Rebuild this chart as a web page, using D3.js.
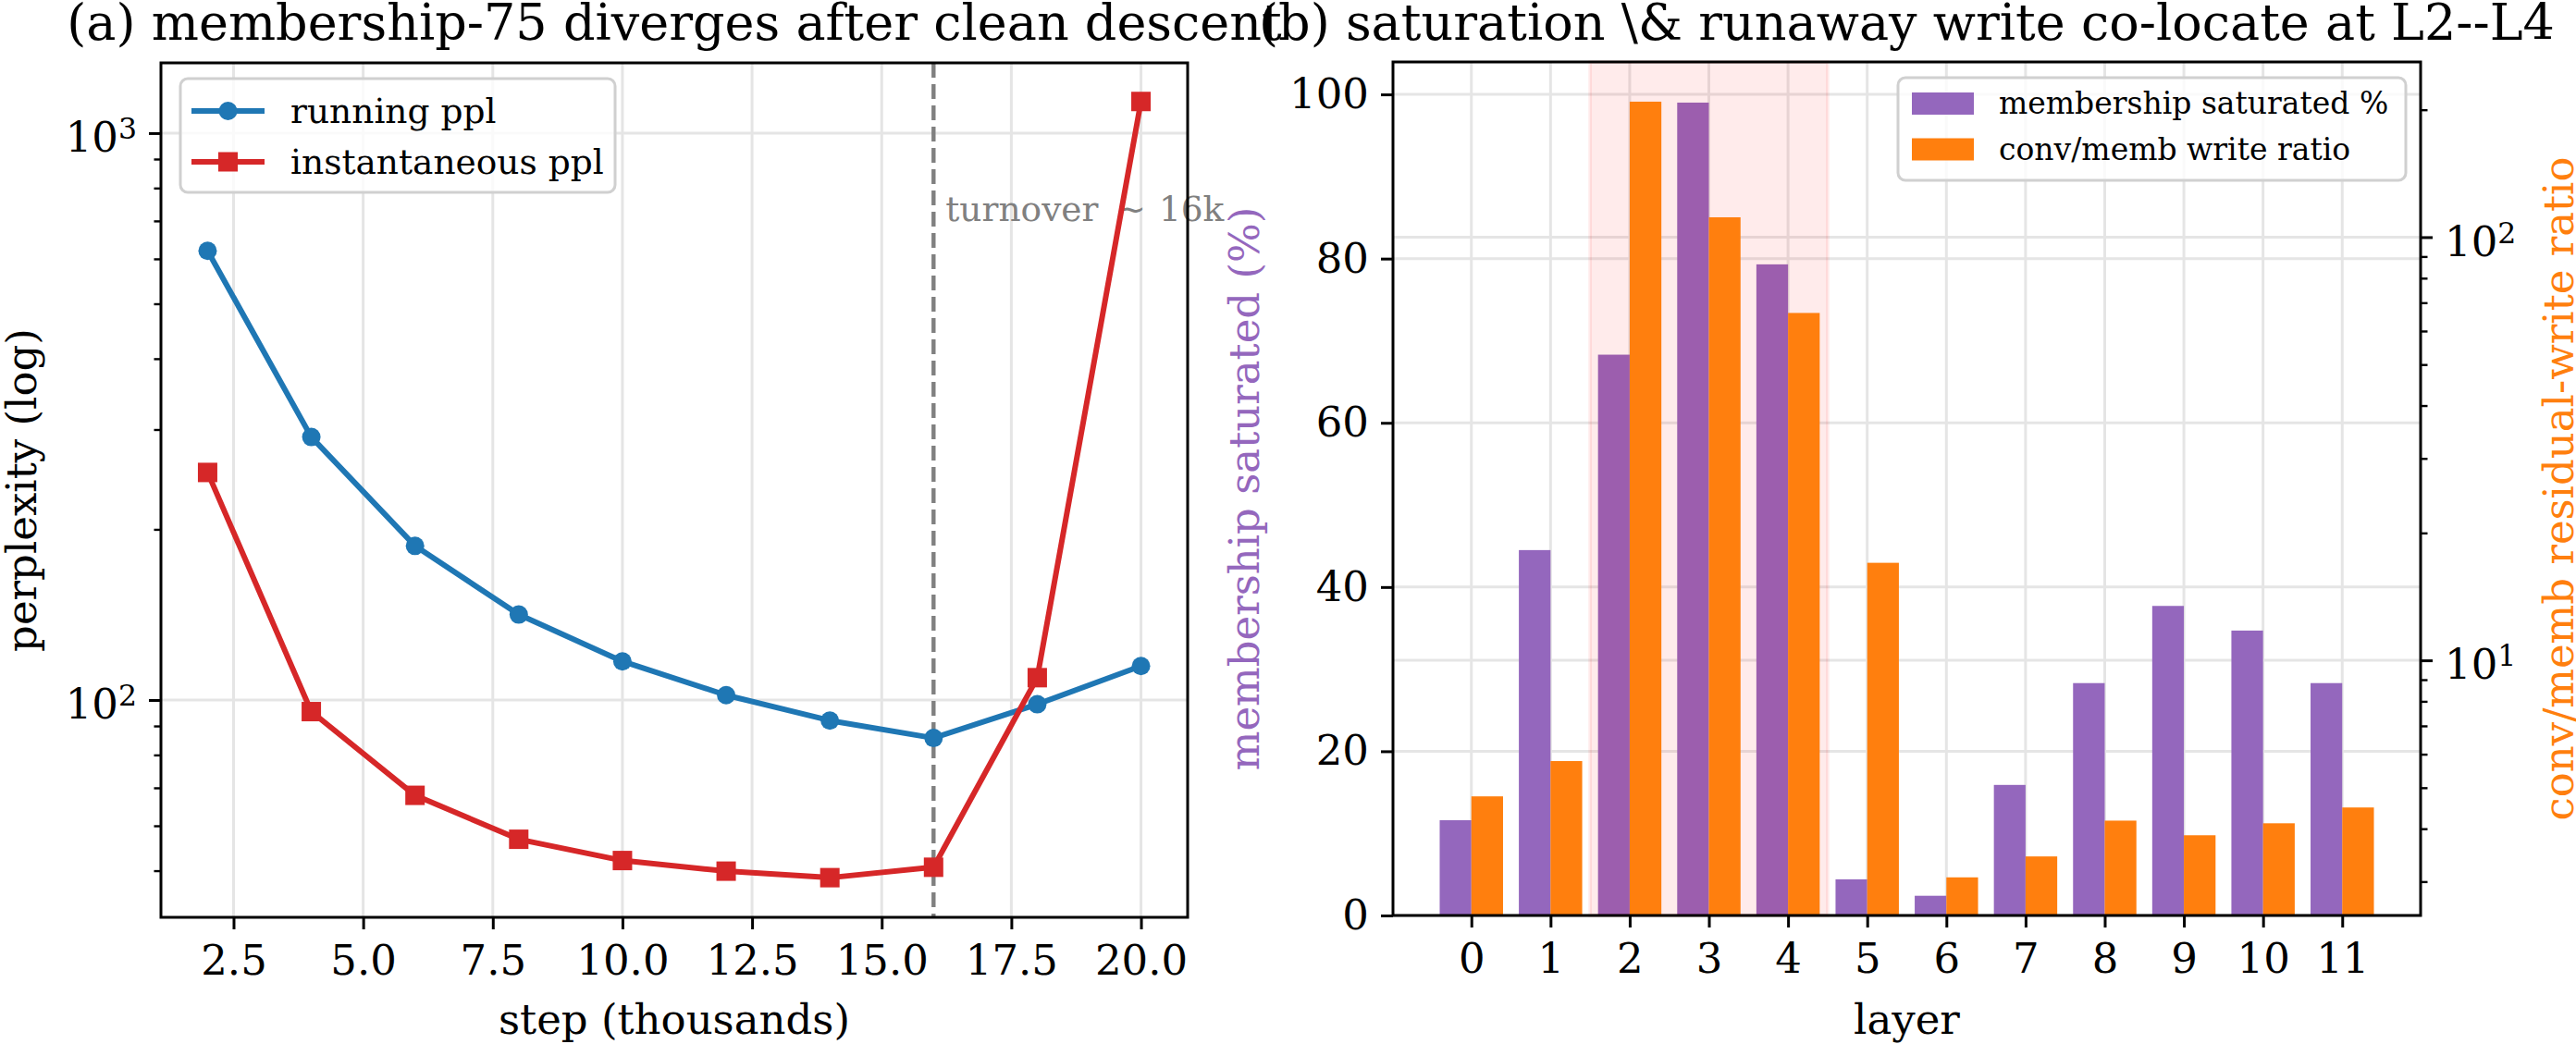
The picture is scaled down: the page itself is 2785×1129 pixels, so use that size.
<!DOCTYPE html>
<html>
<head>
<meta charset="utf-8">
<script src="https://cdn.jsdelivr.net/npm/d3@7"></script>
<style>
  body { margin: 0; background: #fff; }
  svg { display: block; }
</style>
</head>
<body>
<svg id="chart" width="2785" height="1129"></svg>
<script>
// panel (a) data
const steps = [2, 4, 6, 8, 10, 12, 14, 16, 18, 20];
const runningPpl = [620, 291, 187, 141.5, 117, 102, 92, 85.7, 98.3, 114.8];
const instPpl = [252, 95.4, 67.9, 56.8, 52.1, 49.9, 48.6, 50.7, 109.5, 1137];
const stepTicks = [2.5, 5.0, 7.5, 10.0, 12.5, 15.0, 17.5, 20.0];
const turnoverStep = 16;

// panel (b) data
const layers = [0, 1, 2, 3, 4, 5, 6, 7, 8, 9, 10, 11];
const saturatedPct = [11.6, 44.5, 68.3, 99.0, 79.3, 4.4, 2.4, 15.9, 28.3, 37.7, 34.7, 28.3];
const writeRatio = [4.77, 5.78, 209, 111.4, 66.2, 17.0, 3.07, 3.44, 4.18, 3.86, 4.12, 4.49];
const pctTicks = [0, 20, 40, 60, 80, 100];
const hotLayers = [1.5, 4.5];

const FONT = "DejaVu Serif";
const C = {blue: "#1f77b4", red: "#d62728", purple: "#9467bd", orange: "#ff7f0e", grid: "#e5e5e5", gray: "#808080"};

const svg = d3.select("#chart");
svg.append("rect").attr("width", 2785).attr("height", 1129).attr("fill", "#fff");

// shared helpers
function styleAxis(g, size) {
    g.select(".domain").remove();
    g.selectAll(".tick line").attr("stroke", "#000").attr("stroke-width", 3);
    g.selectAll(".tick text")
        .attr("font-family", FONT)
        .attr("font-size", size || 45)
        .attr("fill", "#000");
}

function powerLabels(g) {
    g.selectAll(".tick text").each(function(d) {
        const t = d3.select(this);
        t.text(null).attr("dy", "0.44em");
        t.append("tspan").text("10");
        t.append("tspan").attr("dy", "-0.45em").attr("font-size", "0.7em")
            .text(Math.round(Math.log10(d)));
    });
}

function minorsFor(dom) {
    const out = [];
    for (let e = -1; e < 5; e++) {
        for (let m = 2; m < 10; m++) {
            const v = m * Math.pow(10, e);
            if (v > dom[0] && v < dom[1]) out.push(v);
        }
    }
    return out;
}

function frame(g, x0, x1, y0, y1) {
    g.append("rect")
        .attr("x", x0).attr("y", y0)
        .attr("width", x1 - x0).attr("height", y1 - y0)
        .attr("fill", "none").attr("stroke", "#000").attr("stroke-width", 3);
}

// ---------------- panel (a) ----------------
const A = {x0: 174, x1: 1284, y0: 68, y1: 992};
const xA = d3.scaleLinear().domain([1.1, 20.9]).range([A.x0, A.x1]);
const yA = d3.scaleLog().domain([41.37, 1330]).range([A.y1, A.y0]);

const gA = svg.append("g");

// grid
gA.selectAll(".vgrid").data(stepTicks).enter().append("line")
    .attr("x1", d => xA(d)).attr("x2", d => xA(d))
    .attr("y1", A.y0).attr("y2", A.y1)
    .attr("stroke", C.grid).attr("stroke-width", 3);
gA.selectAll(".hgrid").data([100, 1000]).enter().append("line")
    .attr("x1", A.x0).attr("x2", A.x1)
    .attr("y1", d => yA(d)).attr("y2", d => yA(d))
    .attr("stroke", C.grid).attr("stroke-width", 3);

// turnover marker
gA.append("line")
    .attr("x1", xA(turnoverStep)).attr("x2", xA(turnoverStep))
    .attr("y1", A.y0).attr("y2", A.y1)
    .attr("stroke", C.gray).attr("stroke-width", 4.4)
    .attr("stroke-dasharray", "16,7");
const tt = gA.append("text")
    .attr("x", xA(turnoverStep) + 13).attr("y", 239)
    .attr("font-family", FONT).attr("font-size", 37.5).attr("fill", C.gray);
tt.append("tspan").text("turnover");
tt.append("tspan").attr("dx", 20).text("\u223C");
tt.append("tspan").attr("dx", 14).text("16k");

// series
const lineA = d3.line().x(d => xA(d[0])).y(d => yA(d[1]));
const runPts = steps.map((s, i) => [s, runningPpl[i]]);
const instPts = steps.map((s, i) => [s, instPpl[i]]);

gA.append("path").datum(runPts).attr("d", lineA)
    .attr("fill", "none").attr("stroke", C.blue).attr("stroke-width", 6).attr("stroke-linejoin", "round");
gA.selectAll(".runpt").data(runPts).enter().append("circle")
    .attr("cx", d => xA(d[0])).attr("cy", d => yA(d[1])).attr("r", 10)
    .attr("fill", C.blue);

gA.append("path").datum(instPts).attr("d", lineA)
    .attr("fill", "none").attr("stroke", C.red).attr("stroke-width", 6).attr("stroke-linejoin", "round");
gA.selectAll(".instpt").data(instPts).enter().append("rect")
    .attr("x", d => xA(d[0]) - 10.5).attr("y", d => yA(d[1]) - 10.5)
    .attr("width", 21).attr("height", 21)
    .attr("fill", C.red);

// axes
const axA = gA.append("g").attr("transform", `translate(0,${A.y1})`)
    .call(d3.axisBottom(xA).tickValues(stepTicks).tickFormat(d3.format(".1f")).tickSize(13).tickPadding(17));
styleAxis(axA);
const ayA = gA.append("g").attr("transform", `translate(${A.x0},0)`)
    .call(d3.axisLeft(yA).tickValues([100, 1000]).tickSize(13).tickPadding(13));
styleAxis(ayA);
powerLabels(ayA);
const ayAm = gA.append("g").attr("transform", `translate(${A.x0},0)`)
    .call(d3.axisLeft(yA).tickValues(minorsFor(yA.domain())).tickSize(7.5).tickFormat(""));
styleAxis(ayAm);
ayAm.selectAll(".tick line").attr("stroke-width", 2.4);
frame(gA, A.x0, A.x1, A.y0, A.y1);

// legend (a)
const legA = gA.append("g");
legA.append("rect").attr("x", 195).attr("y", 85).attr("width", 470).attr("height", 123)
    .attr("rx", 8).attr("fill", "#fff").attr("fill-opacity", 0.8)
    .attr("stroke", "#d0d0d0").attr("stroke-width", 3);
[["running ppl", C.blue, "circle"], ["instantaneous ppl", C.red, "square"]].forEach((e, i) => {
    const cy = 120 + i * 55;
    legA.append("line").attr("x1", 207).attr("x2", 286).attr("y1", cy).attr("y2", cy)
        .attr("stroke", e[1]).attr("stroke-width", 6);
    if (e[2] === "circle") {
        legA.append("circle").attr("cx", 246.5).attr("cy", cy).attr("r", 10).attr("fill", e[1]);
    } else {
        legA.append("rect").attr("x", 236).attr("y", cy - 10.5).attr("width", 21).attr("height", 21).attr("fill", e[1]);
    }
    legA.append("text").attr("x", 314).attr("y", cy + 13)
        .attr("font-family", FONT).attr("font-size", 37.5).attr("fill", "#000").text(e[0]);
});

// labels (a)
svg.append("text").attr("x", (A.x0 + A.x1) / 2).attr("y", 43)
    .attr("text-anchor", "middle").attr("font-family", FONT).attr("font-size", 54)
    .text("(a) membership-75 diverges after clean descent");
svg.append("text").attr("x", (A.x0 + A.x1) / 2).attr("y", 1118)
    .attr("text-anchor", "middle").attr("font-family", FONT).attr("font-size", 45)
    .text("step (thousands)");
svg.append("text").attr("transform", `translate(39,${(A.y0 + A.y1) / 2}) rotate(-90)`)
    .attr("text-anchor", "middle").attr("font-family", FONT).attr("font-size", 45)
    .text("perplexity (log)");

// ---------------- panel (b) ----------------
const B = {x0: 1506, x1: 2617, y0: 67, y1: 990};
const xB = d3.scaleLinear().domain([-0.99, 11.99]).range([B.x0, B.x1]);
const yB = d3.scaleLinear().domain([0, 103.95]).range([B.y1, B.y0]);
const yB2 = d3.scaleLog().domain([2.495, 259.4]).range([B.y1, B.y0]);
const barW = xB(0.4) - xB(0);

const gB = svg.append("g");

// grids of both axes, under the bars
gB.selectAll(".vgrid").data(layers).enter().append("line")
    .attr("x1", d => xB(d)).attr("x2", d => xB(d))
    .attr("y1", B.y0).attr("y2", B.y1)
    .attr("stroke", C.grid).attr("stroke-width", 3);
gB.selectAll(".hgrid").data(pctTicks).enter().append("line")
    .attr("x1", B.x0).attr("x2", B.x1)
    .attr("y1", d => yB(d)).attr("y2", d => yB(d))
    .attr("stroke", C.grid).attr("stroke-width", 3);
gB.selectAll(".hgrid2").data([10, 100]).enter().append("line")
    .attr("x1", B.x0).attr("x2", B.x1)
    .attr("y1", d => yB2(d)).attr("y2", d => yB2(d))
    .attr("stroke", C.grid).attr("stroke-width", 3);

// membership bars
gB.selectAll(".sat").data(layers).enter().append("rect")
    .attr("x", d => xB(d - 0.4)).attr("width", barW)
    .attr("y", (d, i) => yB(saturatedPct[i]))
    .attr("height", (d, i) => yB(0) - yB(saturatedPct[i]))
    .attr("fill", C.purple);

// hot zone span
gB.append("rect")
    .attr("x", xB(hotLayers[0])).attr("width", xB(hotLayers[1]) - xB(hotLayers[0]))
    .attr("y", B.y0).attr("height", B.y1 - B.y0)
    .attr("fill", "red").attr("fill-opacity", 0.08)
    .attr("stroke", "red").attr("stroke-opacity", 0.08).attr("stroke-width", 3.7);

// write ratio bars
gB.selectAll(".ratio").data(layers).enter().append("rect")
    .attr("x", d => xB(d)).attr("width", barW)
    .attr("y", (d, i) => yB2(writeRatio[i]))
    .attr("height", (d, i) => B.y1 - yB2(writeRatio[i]))
    .attr("fill", C.orange);

// axes
const axB = gB.append("g").attr("transform", `translate(0,${B.y1})`)
    .call(d3.axisBottom(xB).tickValues(layers).tickFormat(d3.format("d")).tickSize(13).tickPadding(17));
styleAxis(axB);
const ayB = gB.append("g").attr("transform", `translate(${B.x0},0)`)
    .call(d3.axisLeft(yB).tickValues(pctTicks).tickFormat(d3.format("d")).tickSize(13).tickPadding(13));
styleAxis(ayB);
const ayB2 = gB.append("g").attr("transform", `translate(${B.x1},0)`)
    .call(d3.axisRight(yB2).tickValues([10, 100]).tickSize(13).tickPadding(13));
styleAxis(ayB2);
powerLabels(ayB2);
const ayB2m = gB.append("g").attr("transform", `translate(${B.x1},0)`)
    .call(d3.axisRight(yB2).tickValues(minorsFor(yB2.domain())).tickSize(7.5).tickFormat(""));
styleAxis(ayB2m);
ayB2m.selectAll(".tick line").attr("stroke-width", 2.4);
frame(gB, B.x0, B.x1, B.y0, B.y1);

// legend (b)
const legB = gB.append("g");
legB.append("rect").attr("x", 2052).attr("y", 84).attr("width", 549).attr("height", 111)
    .attr("rx", 8).attr("fill", "#fff").attr("fill-opacity", 0.8)
    .attr("stroke", "#d0d0d0").attr("stroke-width", 3);
[["membership saturated %", C.purple], ["conv/memb write ratio", C.orange]].forEach((e, i) => {
    const cy = 112 + i * 49.5;
    legB.append("rect").attr("x", 2067).attr("y", cy - 12).attr("width", 67).attr("height", 24).attr("fill", e[1]);
    legB.append("text").attr("x", 2161).attr("y", cy + 11)
        .attr("font-family", FONT).attr("font-size", 33).attr("fill", "#000").text(e[0]);
});

// labels (b)
svg.append("text").attr("x", (B.x0 + B.x1) / 2).attr("y", 43)
    .attr("text-anchor", "middle").attr("font-family", FONT).attr("font-size", 54)
    .text("(b) saturation \\& runaway write co-locate at L2--L4");
svg.append("text").attr("x", (B.x0 + B.x1) / 2).attr("y", 1118)
    .attr("text-anchor", "middle").attr("font-family", FONT).attr("font-size", 45)
    .text("layer");
svg.append("text").attr("transform", `translate(1361,${(B.y0 + B.y1) / 2}) rotate(-90)`)
    .attr("text-anchor", "middle").attr("font-family", FONT).attr("font-size", 45)
    .attr("fill", C.purple).text("membership saturated (%)");
svg.append("text").attr("transform", `translate(2782,${(B.y0 + B.y1) / 2}) rotate(-90)`)
    .attr("text-anchor", "middle").attr("font-family", FONT).attr("font-size", 45)
    .attr("fill", C.orange).text("conv/memb residual-write ratio");
</script>
</body>
</html>
